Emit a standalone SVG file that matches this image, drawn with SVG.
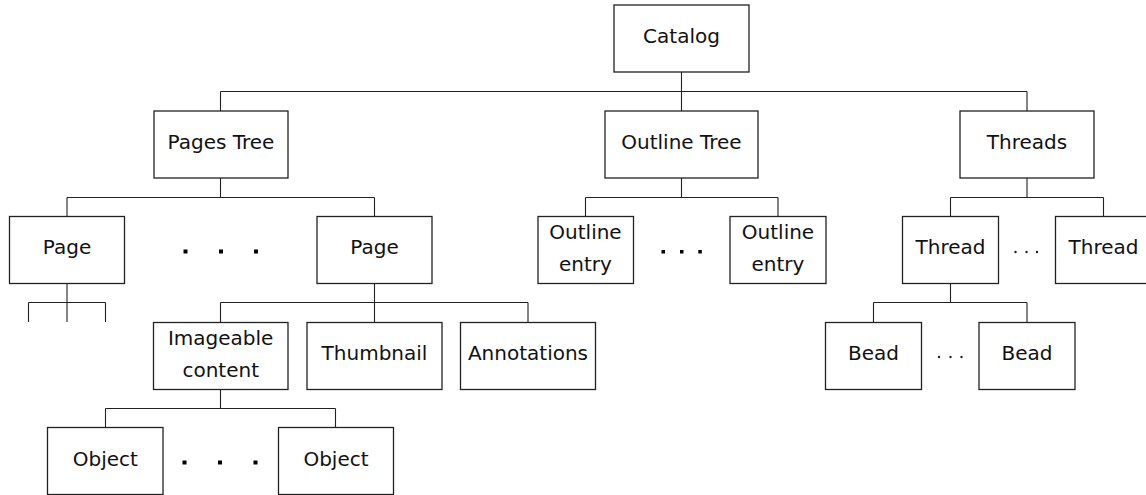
<svg xmlns="http://www.w3.org/2000/svg" width="1146" height="495" viewBox="0 0 1146 495">
<style>
.box{fill:#fff;stroke:#222;stroke-width:1.3}
.ln{fill:none;stroke:#222;stroke-width:1.1}
text{font-family:"DejaVu Sans",sans-serif;font-size:20px;fill:#111;text-anchor:middle}
.dot{fill:#000}
.sd{fill:#222}
</style>
<rect width="1146" height="495" fill="#fff"/>
<g id="connectors">
<path class="ln" d="M681.5,72V91.5M220.5,91.5H1027M220.5,91.5V111M681.5,91.5V111M1027,91.5V111"/>
<path class="ln" d="M220.5,178V197.5M67,197.5H374.5M67,197.5V216.5M374.5,197.5V216.5"/>
<path class="ln" d="M681.5,178V197.5M585.5,197.5H778M585.5,197.5V216.5M778,197.5V216.5"/>
<path class="ln" d="M1027,178V197.5M950.5,197.5H1103.5M950.5,197.5V216.5M1103.5,197.5V216.5"/>
<path class="ln" d="M67,283.5V322M28.5,302.5H105.5M28.5,302.5V322M105.5,302.5V322"/>
<path class="ln" d="M374.5,283.5V322.5M220.5,302.5H528M220.5,302.5V322.5M528,302.5V322.5"/>
<path class="ln" d="M220.5,389.5V408.5M105.5,408.5H335.5M105.5,408.5V427.5M335.5,408.5V427.5"/>
<path class="ln" d="M950.5,283.5V302.5M873.5,302.5H1027M873.5,302.5V322.5M1027,302.5V322.5"/>
</g>
<g id="catalog"><rect class="box" x="614" y="5" width="135" height="67"/><text x="681.5" y="43">Catalog</text></g>
<g id="pages-tree"><rect class="box" x="154" y="111" width="134" height="67"/><text x="221" y="148.5">Pages Tree</text></g>
<g id="outline-tree"><rect class="box" x="605" y="111" width="153" height="67"/><text x="681.5" y="148.5">Outline Tree</text></g>
<g id="threads"><rect class="box" x="960" y="111" width="134" height="67"/><text x="1027" y="148.5">Threads</text></g>
<g id="page-1"><rect class="box" x="9.5" y="216.5" width="115" height="67"/><text x="67" y="254">Page</text></g>
<g id="page-dots"><rect class="dot" x="183.5" y="249.5" width="4" height="4"/><rect class="dot" x="219" y="249.5" width="4" height="4"/><rect class="dot" x="254" y="249.5" width="4" height="4"/></g>
<g id="page-2"><rect class="box" x="317" y="216.5" width="115" height="67"/><text x="374.5" y="254">Page</text></g>
<g id="outline-entry-1"><rect class="box" x="538" y="216.5" width="95.5" height="67"/><text x="585.5" y="238.8">Outline</text><text x="585.5" y="270.8">entry</text></g>
<g id="outline-dots"><rect class="dot" x="661.5" y="250" width="3.5" height="3.5"/><rect class="dot" x="680" y="250" width="3.5" height="3.5"/><rect class="dot" x="698.3" y="250" width="3.5" height="3.5"/></g>
<g id="outline-entry-2"><rect class="box" x="730" y="216.5" width="96" height="67"/><text x="778" y="238.8">Outline</text><text x="778" y="270.8">entry</text></g>
<g id="thread-1"><rect class="box" x="902.5" y="216.5" width="96" height="67"/><text x="950.5" y="254">Thread</text></g>
<g id="thread-dots"><circle class="sd" cx="1015.5" cy="252" r="1.2"/><circle class="sd" cx="1026.5" cy="252" r="1.2"/><circle class="sd" cx="1037" cy="252" r="1.2"/></g>
<g id="thread-2"><rect class="box" x="1055.5" y="216.5" width="96" height="67"/><text x="1103.5" y="254">Thread</text></g>
<g id="imageable-content"><rect class="box" x="153.5" y="322.5" width="134.5" height="67"/><text x="220.7" y="344.5">Imageable</text><text x="220.7" y="376.5">content</text></g>
<g id="thumbnail"><rect class="box" x="307" y="322.5" width="135" height="67"/><text x="374.5" y="360">Thumbnail</text></g>
<g id="annotations"><rect class="box" x="460.5" y="322.5" width="135" height="67"/><text x="528" y="360">Annotations</text></g>
<g id="bead-1"><rect class="box" x="825.5" y="322.5" width="96" height="67"/><text x="873.5" y="360">Bead</text></g>
<g id="bead-dots"><circle class="sd" cx="939" cy="357" r="1.2"/><circle class="sd" cx="950.5" cy="357" r="1.2"/><circle class="sd" cx="961.5" cy="357" r="1.2"/></g>
<g id="bead-2"><rect class="box" x="979" y="322.5" width="96" height="67"/><text x="1027" y="360">Bead</text></g>
<g id="object-1"><rect class="box" x="47.5" y="427.5" width="115.5" height="67"/><text x="105.3" y="465.7">Object</text></g>
<g id="object-dots"><rect class="dot" x="182.5" y="460.5" width="4" height="4"/><rect class="dot" x="218" y="460.5" width="4" height="4"/><rect class="dot" x="253.5" y="460.5" width="4" height="4"/></g>
<g id="object-2"><rect class="box" x="278.5" y="427.5" width="115" height="67"/><text x="336" y="465.7">Object</text></g>
</svg>
